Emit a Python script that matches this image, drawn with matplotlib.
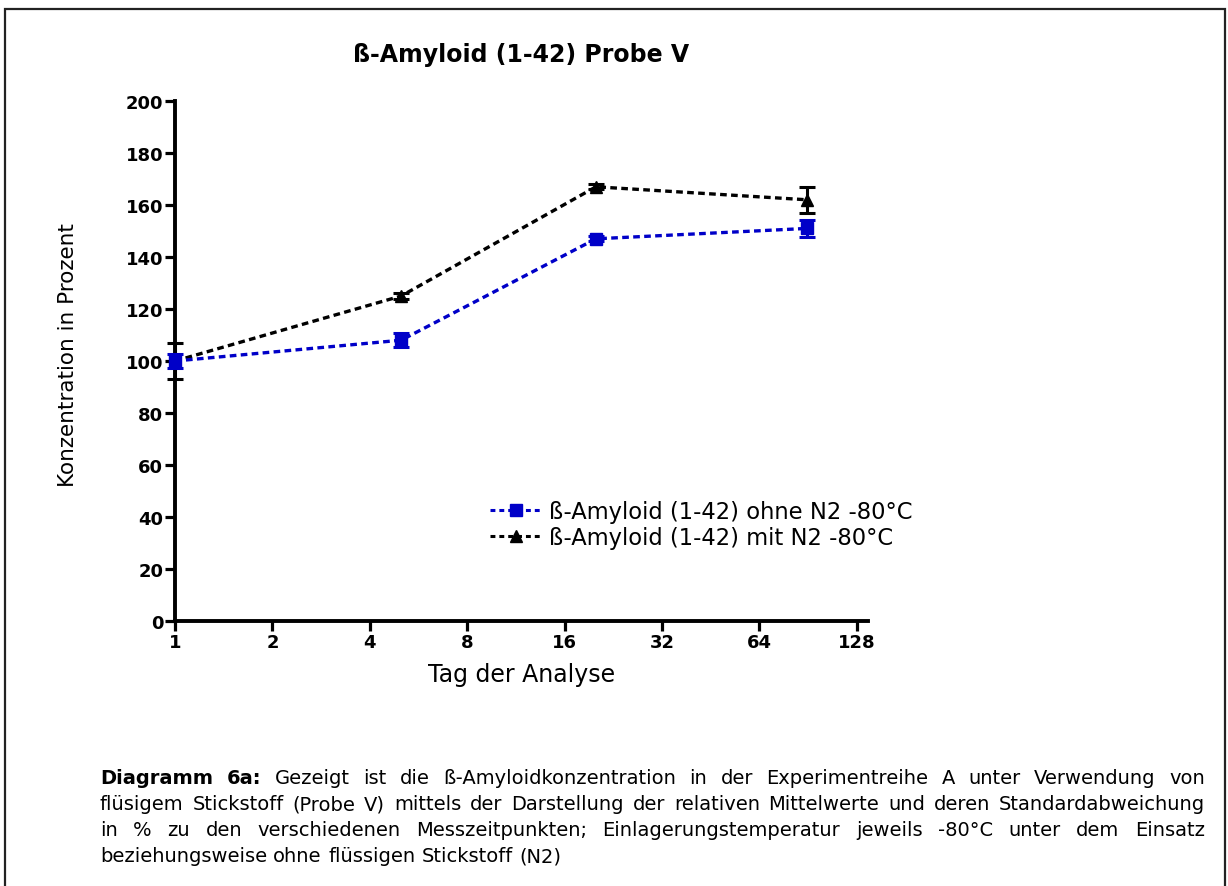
import matplotlib
matplotlib.use("Agg")
import matplotlib.pyplot as plt
from matplotlib.patches import Rectangle
from matplotlib.lines import Line2D

# Measurement days and relative concentrations (%), mean and standard deviation
days = [1, 5, 20, 90]
ohne_mean = [100, 108, 147, 151]
ohne_sd = [2.7, 2.8, 1.0, 3.2]
mit_mean = [100, 125, 167, 162]
mit_sd = [7.0, 1.0, 1.0, 5.0]

x_ticks = [1, 2, 4, 8, 16, 32, 64, 128]
y_ticks = [0, 20, 40, 60, 80, 100, 120, 140, 160, 180, 200]

label_ohne = "ß-Amyloid (1-42) ohne N2 -80°C"
label_mit = "ß-Amyloid (1-42) mit N2 -80°C"
title = "ß-Amyloid (1-42) Probe V"

caption_lines = [
    "Gezeigt ist die ß-Amyloidkonzentration in der Experimentreihe A unter Verwendung von",
    "flüsigem Stickstoff (Probe V) mittels der Darstellung der relativen Mittelwerte und deren Standardabweichung",
    "in % zu den verschiedenen Messzeitpunkten; Einlagerungstemperatur jeweils -80°C unter dem Einsatz",
    "beziehungsweise ohne flüssigen Stickstoff (N2)",
]
caption_lead = "Diagramm 6a:"

FONT = "DejaVu Sans"
W, H = 1228, 887
fig = plt.figure(figsize=(W / 100, H / 100), dpi=100)
fig.patch.set_facecolor("white")


def fx(px):
    return px / W


def fy(py):
    return 1 - py / H


ax = fig.add_axes([fx(175), fy(622), fx(868 - 175), (622 - 102) / H])

blue = "#0000c8"
dash = (0, (2.0, 1.3))
ax.errorbar(days, mit_mean, yerr=mit_sd, color="black", marker="^", markersize=9,
            linestyle=dash, linewidth=2.4, capsize=5.5, capthick=2.2,
            elinewidth=2.2, zorder=3, clip_on=False)
ax.errorbar(days, ohne_mean, yerr=ohne_sd, color=blue, marker="s", markersize=8.5,
            linestyle=dash, linewidth=2.4, capsize=5.5, capthick=2.2,
            elinewidth=2.2, zorder=4, clip_on=False)

ax.set_xscale("log", base=2)
ax.set_xlim(1, 138.6)
ax.set_ylim(0, 200)
ax.set_xticks(x_ticks)
ax.set_xticklabels([str(t) for t in x_ticks])
ax.minorticks_off()
ax.set_yticks(y_ticks)
ax.set_yticklabels([str(t) for t in y_ticks])

for s in ("top", "right"):
    ax.spines[s].set_visible(False)
for s in ("left", "bottom"):
    ax.spines[s].set_linewidth(2.8)
    ax.spines[s].set_capstyle("projecting")
ax.tick_params(axis="both", direction="out", length=7, width=2.3, pad=1.5)
for lab in ax.get_xticklabels() + ax.get_yticklabels():
    lab.set_fontfamily(FONT)
    lab.set_fontweight("bold")
    lab.set_fontsize(13)

ax.set_xlabel("Tag der Analyse", fontfamily=FONT, fontsize=17, labelpad=8)
ax.set_ylabel("Konzentration in Prozent", fontfamily=FONT, fontsize=15.5)
ax.yaxis.set_label_coords(-(175 - 78) / (868 - 175), (622 - 355) / 520)
ax.set_title(title, fontfamily=FONT, fontweight="bold", fontsize=17, pad=29)

legend_handles = [
    Line2D([], [], color=blue, marker="s", markersize=8.5, linestyle=(0, (1.6, 1.3)),
           linewidth=2.2),
    Line2D([], [], color="black", marker="^", markersize=9, linestyle=(0, (1.6, 1.3)),
           linewidth=2.2),
]
ax.legend(legend_handles, [label_ohne, label_mit], loc="upper left",
          bbox_to_anchor=((490 - 175) / (868 - 175), (622 - 501) / 520),
          frameon=False, prop={"family": FONT, "size": 16.3},
          handlelength=2.3, handletextpad=0.3, labelspacing=0.15, borderpad=0,
          borderaxespad=0)

# Outer frame (open at the bottom)
fig.add_artist(Rectangle((fx(5), -0.05), fx(1225 - 5), fy(10) + 0.05, transform=fig.transFigure,
                         fill=False, edgecolor="#222222", linewidth=1.6, clip_on=False))

# Justified caption
renderer = fig.canvas.get_renderer()
left_px, right_px = 100, 1205
line_y = [779, 805, 831, 857]
cap_size = 14


def space_width():
    a = fig.text(0, 0, "a b", fontfamily=FONT, fontsize=cap_size)
    b = fig.text(0, 0, "ab", fontfamily=FONT, fontsize=cap_size)
    sp = a.get_window_extent(renderer).width - b.get_window_extent(renderer).width
    a.remove()
    b.remove()
    return sp


SP = space_width()


def draw_words(words, y_px, justify):
    arts = []
    widths = []
    for w, bold in words:
        t = fig.text(0, fy(y_px), w, fontfamily=FONT, fontsize=cap_size,
                     fontweight="bold" if bold else "normal", va="center", ha="left")
        arts.append(t)
        widths.append(t.get_window_extent(renderer).width)
    total = sum(widths)
    if justify and len(words) > 1:
        gap = (right_px - left_px - total) / (len(words) - 1)
    else:
        gap = SP
    x = left_px
    for t, wdt in zip(arts, widths):
        t.set_x(fx(x))
        x += wdt + gap


for i, line in enumerate(caption_lines):
    words = [(w, False) for w in line.split(" ")]
    if i == 0:
        words = [(w, True) for w in caption_lead.split(" ")] + words
    draw_words(words, line_y[i], justify=(i < len(caption_lines) - 1))

fig.savefig("out.png", dpi=100, facecolor="white")
